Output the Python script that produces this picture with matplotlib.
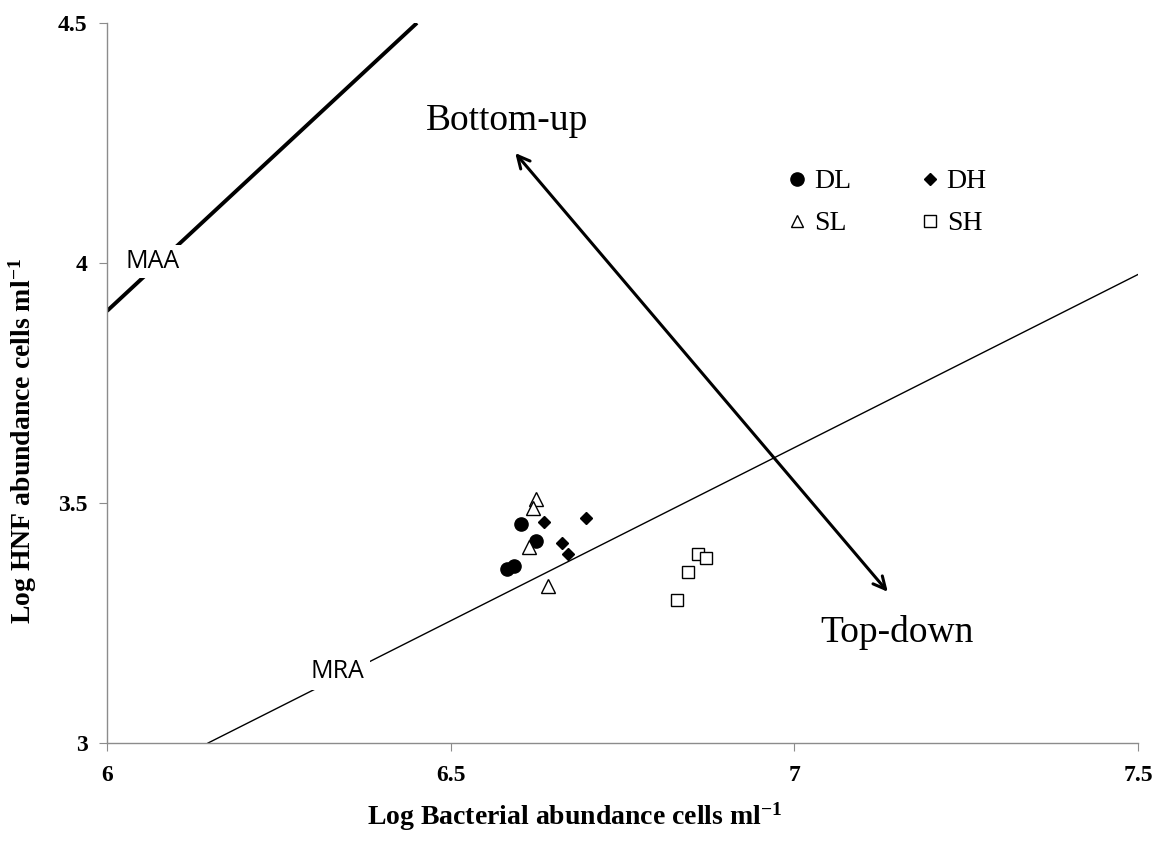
import matplotlib.pyplot as plt
from matplotlib.lines import Line2D

# data (log10 values)
dl_x = [6.602, 6.624, 6.582, 6.592]
dl_y = [3.456, 3.421, 3.362, 3.369]
dh_x = [6.636, 6.697, 6.662, 6.671]
dh_y = [3.461, 3.468, 3.416, 3.393]
sl_x = [6.624, 6.620, 6.614, 6.641]
sl_y = [3.508, 3.489, 3.408, 3.328]
sh_x = [6.860, 6.872, 6.846, 6.830]
sh_y = [3.393, 3.386, 3.356, 3.298]

maa_x = [6.0, 6.451]
maa_y = [3.9, 4.5]
mra_x = [6.147, 7.5]
mra_y = [3.0, 3.976]

xticks = [6, 6.5, 7, 7.5]
yticks = [3, 3.5, 4, 4.5]
xtick_labels = ['6', '6.5', '7', '7.5']
ytick_labels = ['3', '3.5', '4', '4.5']

serif = 'Liberation Serif'
sans = 'Open Sans'

plt.rcParams['mathtext.fontset'] = 'custom'
plt.rcParams['mathtext.rm'] = 'Liberation Serif:bold'
plt.rcParams['mathtext.bf'] = 'Liberation Serif:bold'
plt.rcParams['mathtext.default'] = 'bf'

fig = plt.figure(figsize=(11.62, 8.41), dpi=100)
ax = fig.add_axes([0.0921, 0.1165, 0.8872, 0.8562])

ax.plot(maa_x, maa_y, color='black', lw=2.8, solid_capstyle='butt', zorder=2)
ax.plot(mra_x, mra_y, color='black', lw=1.0, zorder=2)

ax.plot(dl_x, dl_y, 'o', color='black', ms=9.5, ls='none', zorder=4)
ax.plot(dh_x, dh_y, 'D', color='black', ms=6.5, ls='none', zorder=4)
ax.plot(sl_x, sl_y, '^', mfc='white', mec='black', mew=1.0, ms=9.5,
        ls='none', zorder=4)
ax.plot(sh_x, sh_y, 's', mfc='white', mec='black', mew=1.0, ms=8.5,
        ls='none', zorder=4)

# line labels with white boxes that break the lines
ax.text(6.066, 3.99, 'MAA', family=sans, fontsize=18, ha='center',
        va='baseline', zorder=3,
        bbox=dict(facecolor='white', edgecolor='none', pad=3))
ax.text(6.335, 3.135, 'MRA', family=sans, fontsize=18, ha='center',
        va='baseline', zorder=3,
        bbox=dict(facecolor='white', edgecolor='none', pad=4))

# bottom-up / top-down arrow
ax.annotate('', xy=(6.594, 4.229), xytext=(7.136, 3.315),
            arrowprops=dict(arrowstyle='<->', lw=2.2, color='black',
                            mutation_scale=22, shrinkA=0, shrinkB=0),
            zorder=5)
ax.text(6.582, 4.277, 'Bottom-up', family=serif, fontsize=27,
        ha='center', va='baseline')
ax.text(7.149, 3.21, 'Top-down', family=serif, fontsize=27,
        ha='center', va='baseline')

# legend (column-wise fill, so DL, SL, DH, SH)
handles = [
    Line2D([], [], marker='o', color='black', ls='none', ms=9.5),
    Line2D([], [], marker='^', mfc='white', mec='black', ls='none', ms=8),
    Line2D([], [], marker='D', color='black', ls='none', ms=6.5),
    Line2D([], [], marker='s', mfc='white', mec='black', ls='none', ms=8),
]
ax.legend(handles, ['DL', 'SL', 'DH', 'SH'], ncol=2, frameon=False,
          loc='upper left', bbox_to_anchor=(0.637, 0.832),
          prop={'family': serif, 'size': 20}, handlelength=0.6,
          handletextpad=0.3, columnspacing=2.55, labelspacing=0.6)

ax.set_xlim(6, 7.5)
ax.set_ylim(3, 4.5)
ax.set_xticks(xticks)
ax.set_xticklabels(xtick_labels, family=serif, fontweight='bold',
                   fontsize=17)
ax.set_yticks(yticks)
ax.set_yticklabels(ytick_labels, family=serif, fontweight='bold',
                   fontsize=17)

for side in ['top', 'right']:
    ax.spines[side].set_visible(False)
for side in ['left', 'bottom']:
    ax.spines[side].set_color('#8c8c8c')
    ax.spines[side].set_linewidth(1.0)

ax.tick_params(axis='both', direction='out', length=6, color='#8c8c8c')
ax.tick_params(axis='x', pad=10)
ax.tick_params(axis='y', pad=8)

ax.set_xlabel('Log Bacterial abundance cells ml$^{-1}$',
              family=serif, fontsize=20, fontweight='bold')
ax.set_ylabel('Log HNF abundance cells ml$^{-1}$',
              family=serif, fontsize=20, fontweight='bold')
ax.xaxis.set_label_coords(0.454, -0.08)
ax.yaxis.set_label_coords(-0.066, 0.42)

fig.savefig('out.png', dpi=100)
